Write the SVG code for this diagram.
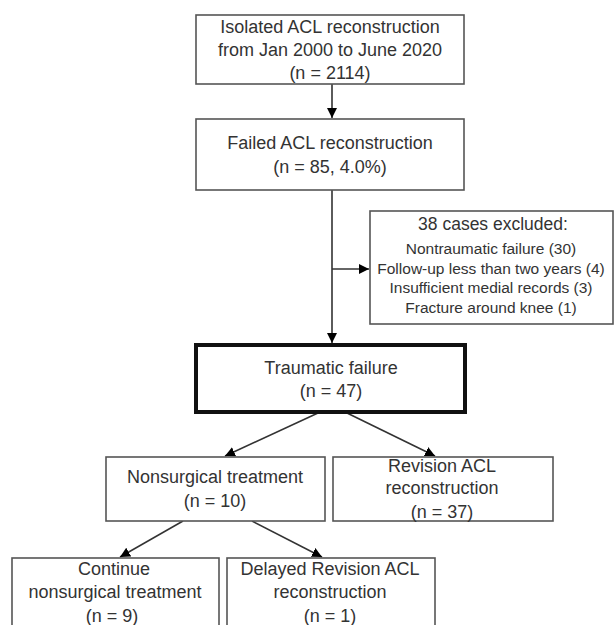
<svg xmlns="http://www.w3.org/2000/svg" width="614" height="625" viewBox="0 0 614 625">
<style>
.box{fill:#fff;stroke:#555;stroke-width:1.6}
.thick{fill:#fff;stroke:#111;stroke-width:4}
.t{font-family:"Liberation Sans",Arial,sans-serif;font-size:18px;fill:#333;text-anchor:middle}
.s{font-family:"Liberation Sans",Arial,sans-serif;font-size:15.5px;fill:#333;text-anchor:middle}
.c{stroke:#333;stroke-width:1.6;fill:none;marker-end:url(#ah)}
</style>
<defs>
<marker id="ah" markerUnits="userSpaceOnUse" markerWidth="12" markerHeight="12" refX="10" refY="5" orient="auto">
<path d="M0,0 L10,5 L0,10 z" fill="#000"/>
</marker>
</defs>
<rect width="614" height="625" fill="#fff"/>
<g id="connectors">
<line class="c" x1="332" y1="84" x2="332" y2="118"/>
<line class="c" x1="332" y1="190" x2="332" y2="343"/>
<line class="c" x1="332" y1="269" x2="369" y2="269"/>
<line class="c" x1="318" y1="413" x2="225" y2="456"/>
<line class="c" x1="347" y1="413" x2="435" y2="456"/>
<line class="c" x1="183" y1="521" x2="120" y2="557"/>
<line class="c" x1="252" y1="521" x2="322" y2="557"/>
</g>
<g id="n1">
<rect class="box" x="196" y="15" width="268" height="69"/>
<text class="t" x="330" y="33">Isolated ACL reconstruction</text>
<text class="t" x="330" y="56">from Jan 2000 to June 2020</text>
<text class="t" x="330" y="79">(n = 2114)</text>
</g>
<g id="n2">
<rect class="box" x="196" y="119" width="268" height="71"/>
<text class="t" x="330" y="149">Failed ACL reconstruction</text>
<text class="t" x="330" y="173">(n = 85, 4.0%)</text>
</g>
<g id="excluded">
<rect class="box" x="370" y="211" width="243" height="113"/>
<text class="t" x="493" y="230" style="font-size:17.5px">38 cases excluded:</text>
<text class="s" x="491" y="254">Nontraumatic failure (30)</text>
<text class="s" x="491" y="274">Follow-up less than two years (4)</text>
<text class="s" x="491" y="293">Insufficient medial records (3)</text>
<text class="s" x="491" y="313">Fracture around knee (1)</text>
</g>
<g id="traumatic">
<rect class="thick" x="196" y="345" width="269" height="67"/>
<text class="t" x="331" y="374">Traumatic failure</text>
<text class="t" x="331" y="397">(n = 47)</text>
</g>
<g id="nonsurgical">
<rect class="box" x="106" y="457" width="219" height="64"/>
<text class="t" x="215" y="483">Nonsurgical treatment</text>
<text class="t" x="215" y="507">(n = 10)</text>
</g>
<g id="revision">
<rect class="box" x="333" y="457" width="220" height="64"/>
<text class="t" x="442" y="472">Revision ACL</text>
<text class="t" x="442" y="494">reconstruction</text>
<text class="t" x="442" y="518">(n = 37)</text>
</g>
<g id="continue">
<rect class="box" x="12" y="558" width="207" height="80"/>
<text class="t" x="114" y="575">Continue</text>
<text class="t" x="115" y="598">nonsurgical treatment</text>
<text class="t" x="112" y="622">(n = 9)</text>
</g>
<g id="delayed">
<rect class="box" x="227" y="558" width="208" height="80"/>
<text class="t" x="330" y="575">Delayed Revision ACL</text>
<text class="t" x="330" y="598">reconstruction</text>
<text class="t" x="330" y="622">(n = 1)</text>
</g>
</svg>
